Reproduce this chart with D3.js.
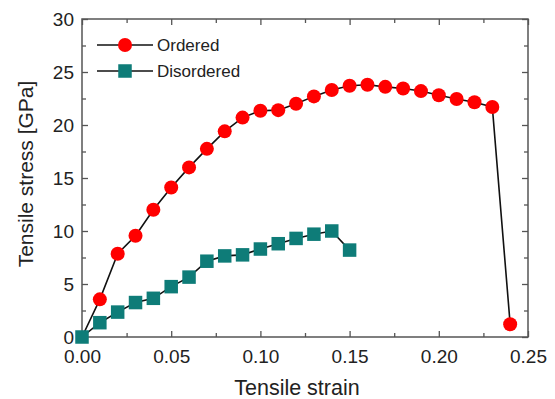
<!DOCTYPE html>
<html>
<head>
<meta charset="utf-8">
<script src="https://cdn.jsdelivr.net/npm/d3@7"></script>
<style>
  body { margin: 0; background: #fff; }
  text { font-family: "Liberation Sans", Arial, sans-serif; fill: #222; }
</style>
</head>
<body>
<div id="chart"></div>
<script>
// Data
let strain = [0.00, 0.01, 0.02, 0.03, 0.04, 0.05, 0.06, 0.07, 0.08, 0.09, 0.10, 0.11, 0.12,
              0.13, 0.14, 0.15, 0.16, 0.17, 0.18, 0.19, 0.20, 0.21, 0.22, 0.23, 0.24];
let ordered = [0, 3.55, 7.85, 9.55, 12.0, 14.1, 16.0, 17.75, 19.4, 20.7, 21.35, 21.4, 22.0,
               22.7, 23.3, 23.7, 23.8, 23.6, 23.45, 23.2, 22.8, 22.45, 22.15, 21.7, 1.2];
let disorderedStrain = [0.00, 0.01, 0.02, 0.03, 0.04, 0.05, 0.06, 0.07, 0.08, 0.09, 0.10,
                        0.11, 0.12, 0.13, 0.14, 0.15];
let disordered = [0, 1.35, 2.35, 3.25, 3.65, 4.75, 5.65, 7.15, 7.65, 7.75, 8.3,
                  8.8, 9.3, 9.7, 10.0, 8.2];
let xTicks = [0, 0.05, 0.10, 0.15, 0.20, 0.25];
let yTicks = [0, 5, 10, 15, 20, 25, 30];

// Set dimensions and margins
let margin = {top: 19, right: 27, bottom: 62, left: 82},
    width = 555 - margin.left - margin.right,
    height = 399 - margin.top - margin.bottom;

let x = d3.scaleLinear().domain([0, 0.25]).range([0, width]);
let y = d3.scaleLinear().domain([0, 30]).range([height, 0]);

let svg = d3.select('#chart')
    .append('svg')
    .attr('width', 555)
    .attr('height', 399)
    .append('g')
    .attr('transform', 'translate(' + margin.left + ',' + margin.top + ')');

let frameColor = '#555';
let tickFont = 19;

// Minor ticks (inward, all four sides)
let xMinor = d3.range(0.025, 0.25, 0.05);
let yMinor = d3.range(2.5, 30, 5);

function tickStyle(g) {
    g.select('.domain').remove();
    g.selectAll('.tick line').attr('stroke', frameColor).attr('stroke-width', 1.3);
}

// Bottom axis
svg.append('g')
    .attr('transform', 'translate(0,' + height + ')')
    .call(d3.axisBottom(x).tickValues(xTicks).tickSize(-6).tickPadding(12.5)
        .tickFormat(d3.format('.2f')))
    .call(tickStyle)
    .selectAll('text').attr('font-size', tickFont).attr('fill', '#222')
    .style('font-family', '"Liberation Sans", Arial, sans-serif');
svg.append('g')
    .attr('transform', 'translate(0,' + height + ')')
    .call(d3.axisBottom(x).tickValues(xMinor).tickSize(-4).tickFormat(''))
    .call(tickStyle);

// Top axis
svg.append('g')
    .call(d3.axisTop(x).tickValues(xTicks).tickSize(-6).tickFormat(''))
    .call(tickStyle);
svg.append('g')
    .call(d3.axisTop(x).tickValues(xMinor).tickSize(-4).tickFormat(''))
    .call(tickStyle);

// Left axis
svg.append('g')
    .call(d3.axisLeft(y).tickValues(yTicks).tickSize(-6).tickPadding(8))
    .call(tickStyle)
    .selectAll('text').attr('font-size', tickFont).attr('fill', '#222')
    .style('font-family', '"Liberation Sans", Arial, sans-serif');
svg.append('g')
    .call(d3.axisLeft(y).tickValues(yMinor).tickSize(-4).tickFormat(''))
    .call(tickStyle);

// Right axis
svg.append('g')
    .attr('transform', 'translate(' + width + ',0)')
    .call(d3.axisRight(y).tickValues(yTicks).tickSize(-6).tickFormat(''))
    .call(tickStyle);
svg.append('g')
    .attr('transform', 'translate(' + width + ',0)')
    .call(d3.axisRight(y).tickValues(yMinor).tickSize(-4).tickFormat(''))
    .call(tickStyle);

// Frame
svg.append('rect')
    .attr('width', width)
    .attr('height', height)
    .attr('fill', 'none')
    .attr('stroke', frameColor)
    .attr('stroke-width', 1.5);

// Axis titles
svg.append('text')
    .attr('x', x(0.1205))
    .attr('y', height + 58)
    .attr('text-anchor', 'middle')
    .attr('font-size', 21.5)
    .text('Tensile strain');

svg.append('text')
    .attr('transform', 'translate(-49,155) rotate(-90)')
    .attr('text-anchor', 'middle')
    .attr('font-size', 21)
    .text('Tensile stress [GPa]');

// Lines
let orderedData = strain.map((s, i) => ({x: s, y: ordered[i]}));
let disorderedData = disorderedStrain.map((s, i) => ({x: s, y: disordered[i]}));

let line = d3.line().x(d => x(d.x)).y(d => y(d.y));

svg.append('path')
    .datum(orderedData)
    .attr('fill', 'none')
    .attr('stroke', '#111')
    .attr('stroke-width', 1.6)
    .attr('d', line);

svg.append('path')
    .datum(disorderedData)
    .attr('fill', 'none')
    .attr('stroke', '#111')
    .attr('stroke-width', 1.6)
    .attr('d', line);

let red = '#ff0000', teal = '#0e7c78';
let sq = 13.5, rad = 7;

svg.selectAll('.pt-ord')
    .data(orderedData.slice(1))
    .enter().append('circle')
    .attr('cx', d => x(d.x))
    .attr('cy', d => y(d.y))
    .attr('r', rad)
    .attr('fill', red);

svg.selectAll('.pt-dis')
    .data(disorderedData)
    .enter().append('rect')
    .attr('x', d => x(d.x) - sq / 2)
    .attr('y', d => y(d.y) - sq / 2)
    .attr('width', sq)
    .attr('height', sq)
    .attr('fill', teal);

// Legend
let legend = [
    {label: 'Ordered', kind: 'circle', color: red},
    {label: 'Disordered', kind: 'square', color: teal}
];
let lg = svg.selectAll('.legend')
    .data(legend)
    .enter().append('g')
    .attr('transform', (d, i) => 'translate(15,' + (26 + i * 26) + ')');

lg.append('line')
    .attr('x1', 0).attr('x2', 56)
    .attr('stroke', '#111').attr('stroke-width', 1.6);
lg.filter(d => d.kind === 'circle').append('circle')
    .attr('cx', 28).attr('r', rad).attr('fill', d => d.color);
lg.filter(d => d.kind === 'square').append('rect')
    .attr('x', 28 - sq / 2).attr('y', -sq / 2)
    .attr('width', sq).attr('height', sq).attr('fill', d => d.color);
lg.append('text')
    .attr('x', 60)
    .attr('dy', '0.35em')
    .attr('font-size', 17)
    .text(d => d.label);
</script>
</body>
</html>
